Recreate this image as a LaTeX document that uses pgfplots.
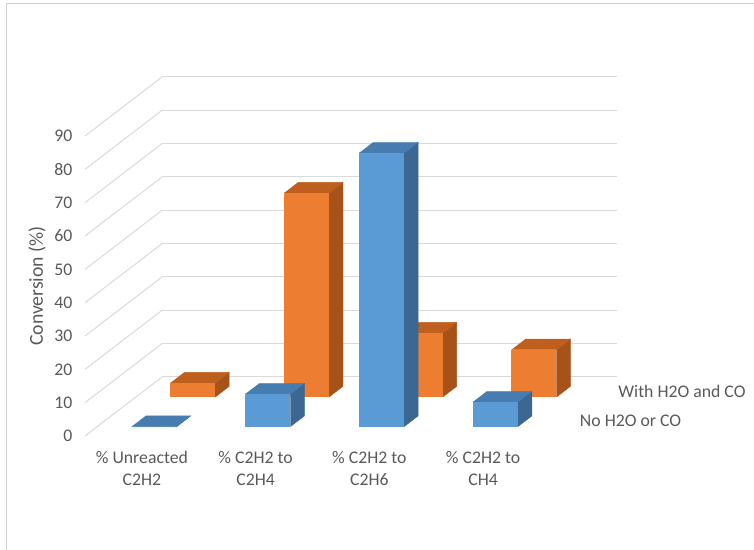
\documentclass[border=0pt]{standalone}
\usepackage{pgfplots}
\pgfplotsset{compat=1.18}
\usepackage{pgfplotstable}
\usepackage{fontspec}
\setmainfont{Carlito}
\usetikzlibrary{calc}

\definecolor{txt}{HTML}{595959}
\definecolor{gridc}{HTML}{D9D9D9}
\definecolor{framec}{HTML}{D0D0D0}
\definecolor{bluefront}{HTML}{5B9BD5}
\definecolor{bluetop}{HTML}{477CB0}
\definecolor{blueside}{HTML}{3B6792}
\definecolor{orangefront}{HTML}{ED7D31}
\definecolor{orangetop}{HTML}{BE5F1E}
\definecolor{orangeside}{HTML}{A65219}

% Conversion (%) per product, without and with H2O and CO in the feed
\pgfplotstableread{
idx noh2o withh2o
0   0.0   4.2
1   9.8   61.2
2   82.1  19.2
3   7.4   14.2
}\conversion

% One 3D column: #1 category index, #2 front depth, #3 value, #4 colour family
\newcommand{\drawcolumn}[4]{%
  \pgfmathsetmacro\xa{#1+0.302}%
  \pgfmathsetmacro\xb{#1+0.698}%
  \pgfmathsetmacro\da{#2}%
  \pgfmathsetmacro\db{#2+0.18}%
  \pgfmathsetmacro\h{#3}%
  \addplot3[fill=#4side, draw=#4side, line width=0.3pt]
    coordinates {(\xb,\da,0) (\xb,\db,0) (\xb,\db,\h) (\xb,\da,\h)};
  \addplot3[fill=#4top, draw=#4top, line width=0.3pt]
    coordinates {(\xa,\da,\h) (\xb,\da,\h) (\xb,\db,\h) (\xa,\db,\h)};
  \addplot3[fill=#4front, draw=none]
    coordinates {(\xa,\da,0) (\xb,\da,0) (\xb,\da,\h) (\xa,\da,\h)};
}

\begin{document}
\begin{tikzpicture}
\begin{axis}[
  x={(85.3125pt,0pt)}, y={(57.75pt,44.25pt)}, z={(0pt,2.5pt)},
  xmin=0, xmax=4, ymin=0, ymax=1, zmin=0, zmax=90,
  clip=false,
  axis line style={draw=none},
  major tick length=0pt,
  xmajorgrids=false, ymajorgrids=false, zmajorgrids=true,
  grid style={gridc, line width=0.75pt},
  xtick={0.5,1.5,2.5,3.5},
  xticklabels={{\% Unreacted\\C2H2},{\% C2H2 to\\C2H4},{\% C2H2 to\\C2H6},{\% C2H2 to\\CH4}},
  ytick={0.25,0.75},
  yticklabels={No H2O or CO, With H2O and CO},
  ztick={0,10,...,90},
  ticklabel style={font=\fontsize{13.3}{16.5}\selectfont, text=txt},
  xticklabel style={align=center, anchor=north, yshift=-8pt,
    font=\fontsize{13.3}{16.5}\selectfont},
  yticklabel style={anchor=west, xshift=12pt},
  zticklabel style={anchor=east, xshift=-6pt},
  /pgf/number format/assume math mode=true,
  zlabel={Conversion (\%)},
  every axis z label/.style={at={($(rel axis cs:0,0,0.5)+(-36pt,0pt)$)}, anchor=center, rotate=90,
    font=\fontsize{14.8}{18}\selectfont, text=txt},
]
  \pgfplotsinvokeforeach{0,1,2,3}{%
    \pgfplotstablegetelem{#1}{withh2o}\of\conversion
    \drawcolumn{#1}{0.66}{\pgfplotsretval}{orange}
  }
  \pgfplotsinvokeforeach{0,1,2,3}{%
    \pgfplotstablegetelem{#1}{noh2o}\of\conversion
    \drawcolumn{#1}{0.16}{\pgfplotsretval}{blue}
  }
  \coordinate (O) at (axis cs:0,0,0);
\end{axis}
\pgfresetboundingbox
\path[use as bounding box] (O) ++(-63.75pt,-85.5pt) rectangle ++(565.5pt,412.5pt);
\draw[framec, line width=0.75pt] (O) ++(-58.5pt,-85.5pt) -- ++(0pt,409.5pt) -- ++(560.25pt,0pt);
\end{tikzpicture}
\end{document}
